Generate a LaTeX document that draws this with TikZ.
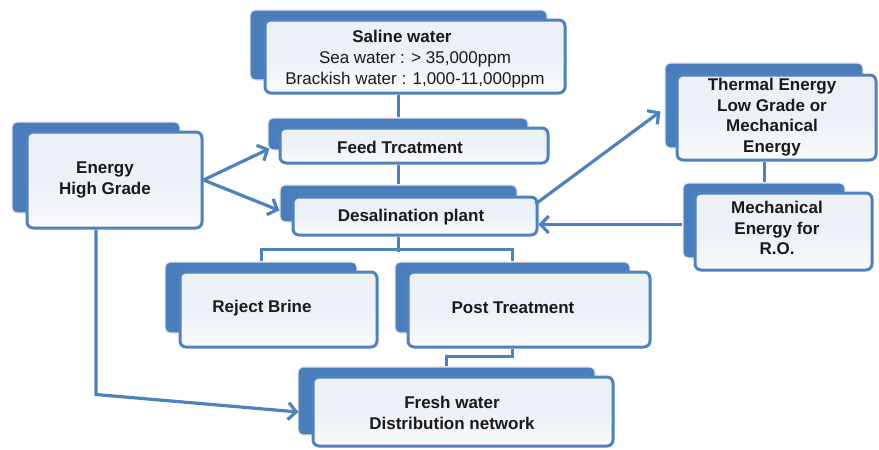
\documentclass[tikz,border=0pt]{standalone}
\usepackage{fontspec}
\setmainfont{Liberation Sans}
\usetikzlibrary{fit,arrows.meta,calc}
\definecolor{myblue}{HTML}{4F81BD}
\definecolor{backblue}{HTML}{4A7DBB}
\definecolor{frontfill}{HTML}{ECF0F7}
\definecolor{txtcol}{HTML}{1A1A1A}
\begin{document}
\begin{tikzpicture}[x=1pt,y=-1pt,
  backbox/.style={fill=backblue, draw=black!10, line width=1.2pt, rounded corners=5pt, inner sep=0pt},
  frontbox/.style={draw=myblue, line width=3pt, rounded corners=6pt, inner sep=0pt,
     top color=frontfill, bottom color=white!70!frontfill, middle color=frontfill},
  txt/.style={font=\fontsize{17}{20.5}\selectfont\bfseries, text=txtcol, align=center, inner sep=0pt},
  txtr/.style={font=\fontsize{17}{20.5}\selectfont, text=txtcol, align=center, inner sep=0pt},
  conn/.style={draw=myblue, line width=3pt},
  arr/.style={draw=myblue, line width=3.2pt, -{Straight Barb[length=8pt,width=17pt,line width=3.2pt]}}
]
\useasboundingbox (0,0) rectangle (879,450);

% back boxes
\node[backbox, fit={(250,10) (547,80)}] (salineb) {};
\node[backbox, fit={(268,118) (528,150)}] (feedb) {};
\node[backbox, fit={(280,185) (517,222)}] (desalb) {};
\node[backbox, fit={(12,122) (180,213)}] (energyb) {};
\node[backbox, fit={(665,63) (863,148)}] (thermalb) {};
\node[backbox, fit={(683,183) (845,258)}] (mechb) {};
\node[backbox, fit={(165,262) (357,333)}] (rejectb) {};
\node[backbox, fit={(395,262) (630,333)}] (postb) {};
\node[backbox, fit={(298,367) (595,435)}] (freshb) {};

% front boxes
\node[frontbox, fit={(265,20) (565,93)}] (saline) {};
\node[frontbox, fit={(280,128) (548,163)}] (feed) {};
\node[frontbox, fit={(293,197) (537,235)}] (desal) {};
\node[frontbox, fit={(27,132) (202,228)}] (energy) {};
\node[frontbox, fit={(677,75) (876,160)}] (thermal) {};
\node[frontbox, fit={(695,193) (872,270)}] (mech) {};
\node[frontbox, fit={(180,272) (377,347)}] (reject) {};
\node[frontbox, fit={(408,272) (650,347)}] (post) {};
\node[frontbox, fit={(313,377) (613,446)}] (fresh) {};

% texts
\node[txt] (salinet) at (402,36) {Saline water};
\node[txtr] (salines) at (415,70) {Sea water : > 35,000ppm\\Brackish water : 1,000-11,000ppm};
\node[txt] (feedt) at (400,147) {Feed Trcatment};
\node[txt] (desalt) at (411,217) {Desalination plant};
\node[txt] (energyt) at (105,180) {Energy\\High Grade};
\node[txt] (thermalt) at (772,117) {Thermal Energy\\Low Grade or\\Mechanical\\Energy};
\node[txt] (mecht) at (777,228) {Mechanical\\Energy for\\R.O.};
\node[txt] (rejectt) at (262,308) {Reject Brine};
\node[txt] (postt) at (513,308) {Post Treatment};
\node[txt] (fresht) at (452,413) {Fresh water\\Distribution network};

% connectors
\draw[conn] (saline.south -| feedb.north) -- (feedb.north);
\draw[conn] (feed.south -| desalb.north) -- (desalb.north);
\draw[conn] (desal.south -| desalb.north) -- ++(0,15);
\draw[conn] (rejectb.north) -- ++(0,-12) -| (postb.north);
\draw[conn] (post.south -| postb.north) -- ++(0,8) -| (freshb.north);
\draw[conn] (thermal.south -| mechb.north) -- (mechb.north);

% arrows
\draw[arr] (energy.east) -- ($(feedb.south west)+(2,-2)$);
\draw[arr] (energy.east) -- ($(desalb.west)+(0,7)$);
\draw[arr] ($(desal.east)+(-3,-12)$) -- ($(thermalb.west)+(-4,6)$);
\draw[arr] ($(mechb.west)+(0,4)$) coordinate (m1) -- (m1 -| desal.east);
\draw[arr] (energy.south -| energyb.south) -- ++(0,165) coordinate (e1) -- ($(freshb.west)+(1,11)$);
\end{tikzpicture}
\end{document}
